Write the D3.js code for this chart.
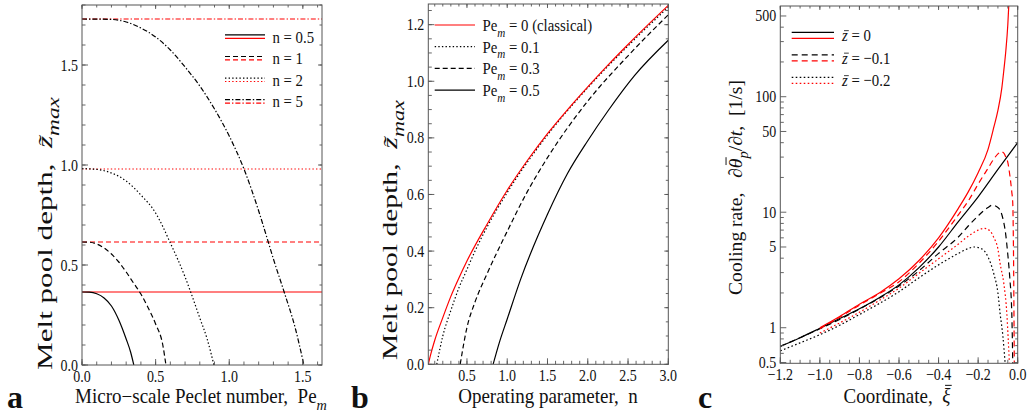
<!DOCTYPE html>
<html><head><meta charset="utf-8">
<script src="https://cdn.jsdelivr.net/npm/d3@7"></script>
<style>
body{margin:0;background:#fff}
text{font-family:"Liberation Serif","DejaVu Serif",serif;fill:#111;white-space:pre}
</style>
</head><body>
<svg id="chart" width="1027" height="415"></svg>
<script>
// ---------------- DATA ----------------
// Panel a: melt pool depth vs micro-scale Peclet number
const nValues = [0.5, 1, 2, 5];
const classicalDepth = [0.365, 0.615, 0.98, 1.73];
const peA_n05 = [0, 0.05, 0.1, 0.15, 0.2, 0.25, 0.3, 0.33, 0.352];
const zA_n05  = [0.365, 0.364, 0.356, 0.335, 0.295, 0.225, 0.13, 0.065, 0];
const peA_n1  = [0, 0.05, 0.1, 0.15, 0.2, 0.25, 0.3, 0.35, 0.4, 0.45, 0.5, 0.55, 0.57];
const zA_n1   = [0.615, 0.614, 0.605, 0.585, 0.555, 0.515, 0.465, 0.41, 0.355, 0.285, 0.205, 0.095, 0];
const peA_n2  = [0, 0.1, 0.2, 0.3, 0.4, 0.5, 0.6, 0.7, 0.738, 0.8, 0.85, 0.896];
const zA_n2   = [0.982, 0.978, 0.96, 0.92, 0.85, 0.76, 0.61, 0.44, 0.365, 0.235, 0.13, 0];
const peA_n5  = [0, 0.2, 0.3, 0.4, 0.5, 0.6, 0.7, 0.8, 0.9, 1.0, 1.1, 1.2, 1.265, 1.3, 1.373, 1.45, 1.507];
const zA_n5   = [1.73, 1.728, 1.715, 1.685, 1.64, 1.575, 1.49, 1.395, 1.28, 1.145, 0.98, 0.77, 0.615, 0.53, 0.365, 0.18, 0];

// Panel b: melt pool depth vs operating parameter n
const nB_pe0  = [0.02, 0.05, 0.1, 0.2, 0.3, 0.4, 0.5, 0.75, 1.0, 1.25, 1.5, 1.75, 2.0, 2.25, 2.5, 2.75, 3.0];
const zB_pe0  = [0, 0.035, 0.085, 0.165, 0.24, 0.305, 0.365, 0.495, 0.615, 0.72, 0.815, 0.9, 0.98, 1.057, 1.13, 1.2, 1.268];
const nB_pe01 = [0.125, 0.2, 0.3, 0.4, 0.5, 0.6, 0.75, 1.0, 1.5, 2.0, 2.5, 3.0];
const zB_pe01 = [0, 0.1, 0.19, 0.27, 0.335, 0.4, 0.485, 0.607, 0.81, 0.977, 1.125, 1.262];
const nB_pe03 = [0.416, 0.5, 0.6, 0.75, 1.0, 1.25, 1.5, 2.0, 2.5, 3.0];
const zB_pe03 = [0, 0.13, 0.22, 0.32, 0.47, 0.61, 0.73, 0.93, 1.09, 1.235];
const nB_pe05 = [0.825, 0.9, 1.0, 1.166, 1.5, 1.75, 2.0, 2.25, 2.58, 3.0];
const zB_pe05 = [0, 0.075, 0.16, 0.3, 0.53, 0.675, 0.79, 0.895, 1.02, 1.145];

// Panel c: cooling rate vs coordinate (log scale)
const xiC_solidK  = [-1.2, -1.1, -1.0, -0.9, -0.8, -0.7, -0.6, -0.5, -0.4, -0.3, -0.2, -0.1, 0];
const rC_solidK   = [0.69, 0.82, 0.99, 1.2, 1.46, 1.82, 2.35, 3.3, 5.0, 8.3, 13.6, 23.5, 40];
const xiC_solidR  = [-1.0, -0.9, -0.8, -0.7, -0.6, -0.5, -0.4, -0.3, -0.25, -0.2, -0.15, -0.12, -0.1, -0.08, -0.07, -0.06, -0.05, -0.045];
const rC_solidR   = [1.0, 1.25, 1.6, 2.0, 2.65, 3.8, 6.0, 10.8, 15, 22, 35, 55, 76, 120, 170, 250, 420, 620];
const xiC_dashK   = [-1.2, -1.1, -1.0, -0.9, -0.8, -0.7, -0.6, -0.5, -0.4, -0.3, -0.25, -0.2, -0.15, -0.13, -0.1, -0.08, -0.06, -0.05, -0.04, -0.03, -0.027, -0.025];
const rC_dashK    = [0.69, 0.82, 0.98, 1.18, 1.45, 1.8, 2.3, 3.1, 4.4, 6.1, 7.6, 9.3, 11, 11.5, 11, 9.5, 6.3, 4.3, 2.7, 1.35, 0.8, 0.48];
const xiC_dashR   = [-1.0, -0.9, -0.8, -0.7, -0.6, -0.5, -0.4, -0.3, -0.25, -0.2, -0.15, -0.12, -0.1, -0.085, -0.07, -0.06, -0.05, -0.04, -0.03, -0.025, -0.022, -0.02, -0.018, -0.017];
const rC_dashR    = [0.98, 1.23, 1.57, 1.97, 2.5, 3.6, 5.6, 9.5, 12.5, 17.5, 24, 29, 32, 33.4, 32.5, 30, 27, 21, 15, 12, 6, 2.5, 0.8, 0.45];
const xiC_dotK    = [-1.2, -1.1, -1.0, -0.9, -0.8, -0.7, -0.6, -0.5, -0.4, -0.3, -0.25, -0.22, -0.18, -0.15, -0.12, -0.1, -0.089, -0.075, -0.064];
const rC_dotK     = [0.63, 0.74, 0.87, 1.05, 1.3, 1.62, 2.05, 2.7, 3.5, 4.4, 4.85, 5.0, 4.8, 4.1, 2.9, 2.0, 1.33, 0.85, 0.5];
const xiC_dotR    = [-1.0, -0.9, -0.8, -0.7, -0.6, -0.5, -0.4, -0.3, -0.25, -0.2, -0.17, -0.14, -0.12, -0.1, -0.089, -0.07, -0.055, -0.048, -0.042];
const rC_dotR     = [0.9, 1.1, 1.36, 1.72, 2.2, 2.95, 3.95, 5.3, 6.2, 7.0, 7.25, 6.9, 6.0, 4.8, 3.6, 2.4, 1.33, 0.8, 0.5];

// Tick labels
const ticksA_x = [0, 0.5, 1.0, 1.5];
const ticksA_y = [0, 0.5, 1.0, 1.5];
const ticksB_x = [0.5, 1.0, 1.5, 2.0, 2.5, 3.0];
const ticksB_y = [0, 0.2, 0.4, 0.6, 0.8, 1.0, 1.2];
const ticksC_x = [-1.2, -1.0, -0.8, -0.6, -0.4, -0.2, 0];
const ticksC_y = [0.5, 1, 5, 10, 50, 100, 500];

// ---------------- DRAWING ----------------
const svg = d3.select('#chart');
const RED = '#ff0000', BLK = '#000';
const DASH = '5,3', DOT = '1.4,2.2', DASHDOT = '5,2,1.4,2';
const DASH_C = '6,4', DOT_C = '1.6,2.4';
const FS_TICK = 14, FS_TITLE = 19, FS_YT = 21, FS_LEG = 14.8;
const SY_TICK = 1.2, SY_LEG = 1.2, SY_TITLE = 1.08;

// builds tspans; parts: {t, i: italic, sub: subscript, bar: overbar height in em}
function rich(g, t, parts, fs) {
  let shift = 0;
  parts.forEach(p => {
    const ts = t.append('tspan').text(p.t);
    if (p.i) ts.attr('font-style', 'italic');
    const target = p.sub ? fs * 0.32 : 0;
    if (target !== shift) { ts.attr('dy', target - shift); shift = target; }
    if (p.sub) ts.attr('font-size', fs * 0.75);
  });
  let idx = 0;
  const n = t.node().getNumberOfChars();
  parts.forEach(p => {
    if (p.bar && idx < n) {
      try {
        const e = t.node().getExtentOfChar(idx);
        g.append('line').attr('x1', e.x + e.width * 0.25 + fs * 0.04).attr('x2', e.x + e.width + fs * 0.07)
          .attr('y1', -p.bar * fs).attr('y2', -p.bar * fs).attr('stroke', '#111').attr('stroke-width', fs * 0.05);
      } catch (err) {}
    }
    idx += p.t.length;
  });
}
// horizontal text, stretched vertically around its baseline
function htext(parent, x, y, fs, sy, anchor, parts) {
  const g = parent.append('g').attr('transform', `translate(${x},${y}) scale(1,${sy})`);
  const t = g.append('text').attr('font-size', fs).attr('text-anchor', anchor || 'start');
  rich(g, t, parts, fs);
  return t;
}
// rotated title, stretched along reading direction to a target span [yTop, yBottom]
function vtitle(parent, cx, yTop, yBot, parts, fs) {
  const g = parent.append('g');
  const t = g.append('text').attr('font-size', fs).attr('text-anchor', 'middle');
  rich(g, t, parts, fs);
  const L = t.node().getComputedTextLength();
  const s = (yBot - yTop) / L;
  g.attr('transform', `translate(${cx},${(yTop + yBot) / 2}) rotate(-90) scale(${s},1)`);
  return t;
}

function range(a, b, s) { const r = []; for (let v = a; v <= b + 1e-9; v += s) r.push(+v.toFixed(6)); return r; }

function frame(g, x, y, majX, minX, majY, minY, fmtX, fmtY) {
  const [x0, x1] = x.range(), [y0, y1] = y.range();
  const col = '#555';
  const tk = g.append('g').attr('stroke', col).attr('stroke-width', 0.9);
  const M = 6, m = 3.5, Mt = 4, mt = 2.5;
  majX.forEach(v => { const px = x(v);
    tk.append('line').attr('x1', px).attr('x2', px).attr('y1', y0).attr('y2', y0 - M);
    tk.append('line').attr('x1', px).attr('x2', px).attr('y1', y1).attr('y2', y1 + Mt); });
  minX.forEach(v => { const px = x(v); if (px < x0 - 0.5 || px > x1 + 0.5) return;
    tk.append('line').attr('x1', px).attr('x2', px).attr('y1', y0).attr('y2', y0 - m);
    tk.append('line').attr('x1', px).attr('x2', px).attr('y1', y1).attr('y2', y1 + mt); });
  majY.forEach(v => { const py = y(v);
    tk.append('line').attr('y1', py).attr('y2', py).attr('x1', x0).attr('x2', x0 + M);
    tk.append('line').attr('y1', py).attr('y2', py).attr('x1', x1).attr('x2', x1 - Mt); });
  minY.forEach(v => { const py = y(v); if (py > y0 + 0.5 || py < y1 - 0.5) return;
    tk.append('line').attr('y1', py).attr('y2', py).attr('x1', x0).attr('x2', x0 + m);
    tk.append('line').attr('y1', py).attr('y2', py).attr('x1', x1).attr('x2', x1 - mt); });
  g.append('rect').attr('x', x0).attr('y', y1).attr('width', x1 - x0).attr('height', y0 - y1)
    .attr('fill', 'none').attr('stroke', col).attr('stroke-width', 1);
  const lab = g.append('g');
  majX.forEach(v => htext(lab, x(v), y0 + 17, FS_TICK, SY_TICK, 'middle', [{t: fmtX(v)}]));
  majY.forEach(v => htext(lab, x0 - 4, y(v) + 5.5, FS_TICK, SY_TICK, 'end', [{t: fmtY(v)}]));
}

function curve(g, x, y, xs, ys, color, dash, clipId) {
  const pts = xs.map((v, i) => [v, ys[i]]);
  const line = d3.line().x(d => x(d[0])).y(d => y(d[1])).curve(d3.curveMonotoneX);
  const p = g.append('path').attr('d', line(pts)).attr('fill', 'none')
    .attr('stroke', color).attr('stroke-width', 1.2);
  if (dash) p.attr('stroke-dasharray', dash);
  if (clipId) p.attr('clip-path', `url(#${clipId})`);
  return p;
}

function clip(id, x, y) {
  const [x0, x1] = x.range(), [y0, y1] = y.range();
  svg.append('clipPath').attr('id', id).append('rect')
    .attr('x', x0).attr('y', y1).attr('width', x1 - x0).attr('height', y0 - y1);
}

const f1 = d3.format('.1f');

// ---------- Panel a ----------
{
  const x = d3.scaleLinear().domain([0, 1.63]).range([82, 322]);
  const y = d3.scaleLinear().domain([0, 1.8]).range([365, 5]);
  clip('clipA', x, y);
  const g = svg.append('g');
  const styles = [null, DASH, DOT, DASHDOT];
  classicalDepth.forEach((z, i) => curve(g, x, y, [0, 1.63], [z, z], RED, styles[i], 'clipA'));
  curve(g, x, y, peA_n05, zA_n05, BLK, null, 'clipA');
  curve(g, x, y, peA_n1, zA_n1, BLK, DASH, 'clipA');
  curve(g, x, y, peA_n2, zA_n2, BLK, DOT, 'clipA');
  curve(g, x, y, peA_n5, zA_n5, BLK, DASHDOT, 'clipA');
  frame(g, x, y, ticksA_x, range(0, 1.6, 0.1), ticksA_y, range(0, 1.8, 0.1), f1, f1);
  const lg = g.append('g');
  nValues.forEach((n, i) => {
    const cy = 36.5 + i * 21.6;
    lg.append('line').attr('x1', 225).attr('x2', 265).attr('y1', cy - 1.6).attr('y2', cy - 1.6)
      .attr('stroke', BLK).attr('stroke-width', 1.2).attr('stroke-dasharray', styles[i]);
    lg.append('line').attr('x1', 225).attr('x2', 265).attr('y1', cy + 1.8).attr('y2', cy + 1.8)
      .attr('stroke', RED).attr('stroke-width', 1.2).attr('stroke-dasharray', styles[i]);
    htext(lg, 272.5, cy + 6, FS_LEG, SY_LEG, 'start', [{t: `n = ${n}`}]);
  });
  htext(g, 201, 403, FS_TITLE, SY_TITLE, 'middle',
    [{t: 'Micro\u2212scale Peclet number,  Pe'}, {t: 'm', i: 1, sub: 1}]);
  vtitle(g, 52, 97, 370, [{t: 'Melt pool depth,  '}, {t: 'z\u0303', i: 1}, {t: 'max', i: 1, sub: 1}], FS_YT);
  g.append('text').attr('x', 7).attr('y', 408).attr('font-size', 32).attr('font-weight', 'bold').text('a');
}

// ---------- Panel b ----------
{
  const x = d3.scaleLinear().domain([0.02, 3.0]).range([428.3, 668.3]);
  const y = d3.scaleLinear().domain([0, 1.273]).range([364.3, 4]);
  clip('clipB', x, y);
  const g = svg.append('g');
  curve(g, x, y, nB_pe05, zB_pe05, BLK, null, 'clipB');
  curve(g, x, y, nB_pe03, zB_pe03, BLK, DASH, 'clipB');
  curve(g, x, y, nB_pe01, zB_pe01, BLK, DOT, 'clipB');
  curve(g, x, y, nB_pe0, zB_pe0, RED, null, 'clipB');
  frame(g, x, y, ticksB_x, range(0.1, 3.0, 0.1), ticksB_y, range(0, 1.25, 0.05), f1, f1);
  const leg = [
    {c: RED, d: null, v: '0 (classical)'},
    {c: BLK, d: DOT, v: '0.1'},
    {c: BLK, d: DASH, v: '0.3'},
    {c: BLK, d: null, v: '0.5'}];
  leg.forEach((e, i) => {
    const cy = 25 + i * 21.7;
    g.append('line').attr('x1', 434.7).attr('x2', 475).attr('y1', cy).attr('y2', cy)
      .attr('stroke', e.c).attr('stroke-width', 1.2).attr('stroke-dasharray', e.d);
    htext(g, 482.5, cy + 6, FS_LEG, SY_LEG, 'start', [{t: 'Pe'}, {t: 'm', i: 1, sub: 1}, {t: ' = ' + e.v}]);
  });
  htext(g, 548, 403, FS_TITLE, SY_TITLE, 'middle', [{t: 'Operating parameter,  n'}]);
  vtitle(g, 397, 100, 360, [{t: 'Melt pool depth,  '}, {t: 'z\u0303', i: 1}, {t: 'max', i: 1, sub: 1}], FS_YT);
  g.append('text').attr('x', 351).attr('y', 408).attr('font-size', 32).attr('font-weight', 'bold').text('b');
}

// ---------- Panel c ----------
{
  const x = d3.scaleLinear().domain([-1.2, 0]).range([780.3, 1017.7]);
  const y = d3.scaleLog().domain([0.492, 610]).range([363.3, 6]);
  clip('clipC', x, y);
  const g = svg.append('g');
  curve(g, x, y, xiC_dotK, rC_dotK, BLK, DOT_C, 'clipC');
  curve(g, x, y, xiC_dashK, rC_dashK, BLK, DASH_C, 'clipC');
  curve(g, x, y, xiC_solidK, rC_solidK, BLK, null, 'clipC');
  curve(g, x, y, xiC_dotR, rC_dotR, RED, DOT_C, 'clipC');
  curve(g, x, y, xiC_dashR, rC_dashR, RED, DASH_C, 'clipC');
  curve(g, x, y, xiC_solidR, rC_solidR, RED, null, 'clipC');
  const minorY = [0.6, 0.7, 0.8, 0.9, 2, 3, 4, 6, 7, 8, 9, 20, 30, 40, 60, 70, 80, 90, 200, 300, 400];
  frame(g, x, y, ticksC_x, range(-1.2, 0, 0.05), ticksC_y, minorY, f1, d => String(d));
  const leg = [{v: '0', d: null}, {v: '\u22120.1', d: DASH_C}, {v: '\u22120.2', d: DOT_C}];
  leg.forEach((e, i) => {
    const cy = 35.3 + i * 22.5;
    g.append('line').attr('x1', 791.7).attr('x2', 834).attr('y1', cy - 3).attr('y2', cy - 3)
      .attr('stroke', BLK).attr('stroke-width', 1.2).attr('stroke-dasharray', e.d);
    g.append('line').attr('x1', 791.7).attr('x2', 834).attr('y1', cy + 3).attr('y2', cy + 3)
      .attr('stroke', RED).attr('stroke-width', 1.2).attr('stroke-dasharray', e.d);
    htext(g, 842, cy + 6, FS_LEG, SY_LEG, 'start', [{t: 'z', i: 1, bar: 0.6}, {t: ' = ' + e.v}]);
  });
  htext(g, 897, 403, FS_TITLE, SY_TITLE, 'middle', [{t: 'Coordinate,  '}, {t: '\u03BE', i: 1, bar: 0.86}]);
  vtitle(g, 742, 80, 295, [{t: 'Cooling rate,   \u2202'}, {t: '\u03B8', i: 1, bar: 0.84}, {t: 'p', i: 1, sub: 1}, {t: '/\u2202'}, {t: 't', i: 1}, {t: ',  [1/s]'}], FS_TITLE);
  g.append('text').attr('x', 698).attr('y', 408).attr('font-size', 32).attr('font-weight', 'bold').text('c');
}
</script>
</body></html>
